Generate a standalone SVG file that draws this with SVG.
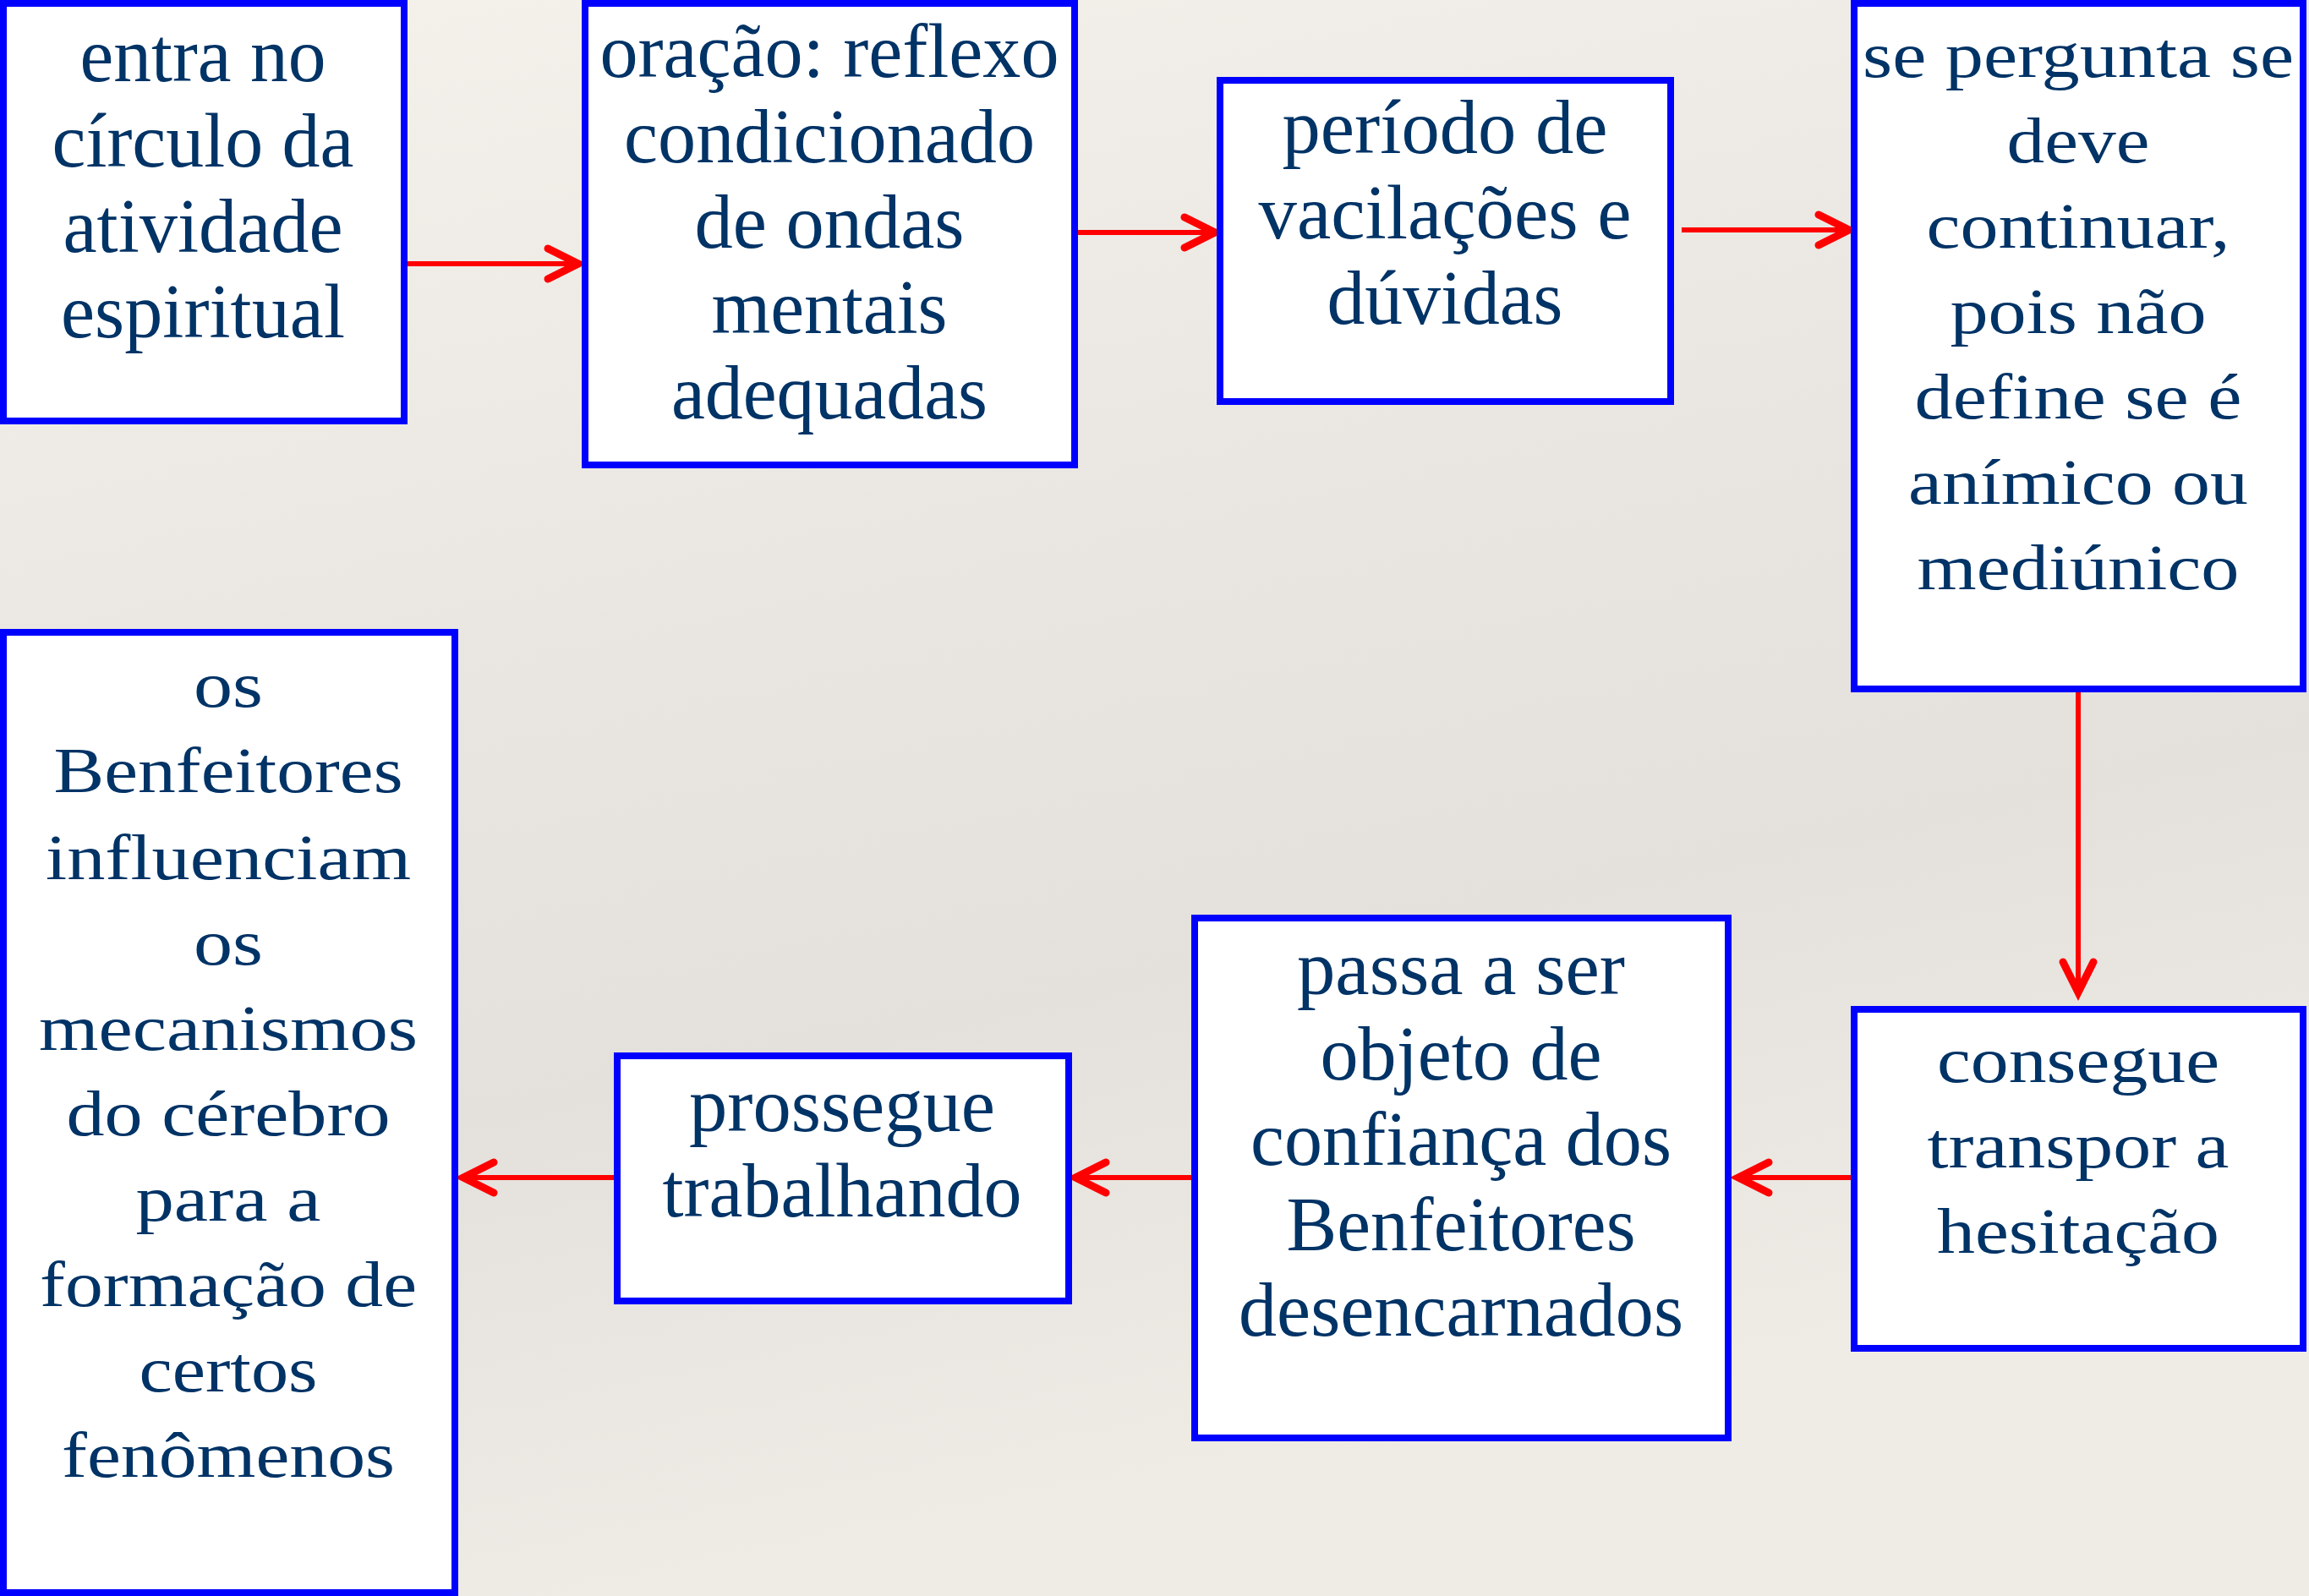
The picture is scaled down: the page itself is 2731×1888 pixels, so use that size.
<svg xmlns="http://www.w3.org/2000/svg" width="2731" height="1888" viewBox="0 0 2731 1888">
<defs>
<linearGradient id="bg" x1="0" y1="0" x2="0.3" y2="1">
<stop offset="0" stop-color="#F5F2EC"/>
<stop offset="0.45" stop-color="#E9E6E1"/>
<stop offset="0.7" stop-color="#E4E1DC"/>
<stop offset="1" stop-color="#EFECE6"/>
</linearGradient>
<style>
.box{fill:#FFFFFF;stroke:#0000FF;stroke-width:8}
.t{font-family:"Liberation Serif","Times New Roman",serif;font-size:90px;fill:#003366;text-anchor:middle}
.w{font-size:76px}
.ln{stroke:#FF0000;stroke-width:6;fill:none}
.hd{stroke:#FF0000;stroke-width:9;fill:none;stroke-linecap:round;stroke-linejoin:miter}
</style>
</defs>
<rect x="0" y="0" width="2731" height="1888" fill="url(#bg)"/>

<g id="connectors">
<line class="ln" x1="482" y1="312" x2="684" y2="312"/>
<polyline class="hd" points="648,294 684,312 648,330"/>
<line class="ln" x1="1275" y1="275" x2="1435" y2="275"/>
<polyline class="hd" points="1401,257 1437,275 1401,293"/>
<line class="ln" x1="1989" y1="272" x2="2185" y2="272"/>
<polyline class="hd" points="2151,254 2187,272 2151,290"/>
<line class="ln" x1="2458" y1="819" x2="2458" y2="1172"/>
<polyline class="hd" points="2440,1138 2458,1174 2476,1138"/>
<line class="ln" x1="2189" y1="1393" x2="2058" y2="1393"/>
<polyline class="hd" points="2092,1375 2056,1393 2092,1411"/>
<line class="ln" x1="1409" y1="1393" x2="1274" y2="1393"/>
<polyline class="hd" points="1308,1375 1272,1393 1308,1411"/>
<line class="ln" x1="726" y1="1393" x2="550" y2="1393"/>
<polyline class="hd" points="584,1375 548,1393 584,1411"/>
</g>

<g id="n1">
<rect class="box" x="4" y="4" width="474" height="494"/>
<text class="t"><tspan x="240" y="96" textLength="291" lengthAdjust="spacingAndGlyphs">entra no</tspan><tspan x="240" y="197" textLength="357" lengthAdjust="spacingAndGlyphs">círculo da</tspan><tspan x="240" y="298" textLength="331" lengthAdjust="spacingAndGlyphs">atividade</tspan><tspan x="240" y="399" textLength="336" lengthAdjust="spacingAndGlyphs">espiritual</tspan></text>
</g>

<g id="n2">
<rect class="box" x="692" y="4" width="579" height="546"/>
<text class="t"><tspan x="981" y="91" textLength="543" lengthAdjust="spacingAndGlyphs">oração: reflexo</tspan><tspan x="981" y="192" textLength="486" lengthAdjust="spacingAndGlyphs">condicionado</tspan><tspan x="981" y="293" textLength="319" lengthAdjust="spacingAndGlyphs">de ondas</tspan><tspan x="981" y="394" textLength="279" lengthAdjust="spacingAndGlyphs">mentais</tspan><tspan x="981" y="495" textLength="374" lengthAdjust="spacingAndGlyphs">adequadas</tspan></text>
</g>

<g id="n3">
<rect class="box" x="1443" y="95" width="533" height="380"/>
<text class="t"><tspan x="1709" y="181" textLength="385" lengthAdjust="spacingAndGlyphs">período de</tspan><tspan x="1709" y="282" textLength="441" lengthAdjust="spacingAndGlyphs">vacilações e</tspan><tspan x="1709" y="383" textLength="279" lengthAdjust="spacingAndGlyphs">dúvidas</tspan></text>
</g>

<g id="n4">
<rect class="box" x="2193" y="4" width="531" height="811"/>
<text class="t w"><tspan x="2458" y="91" textLength="510" lengthAdjust="spacingAndGlyphs">se pergunta se</tspan><tspan x="2458" y="192" textLength="169" lengthAdjust="spacingAndGlyphs">deve</tspan><tspan x="2458" y="293" textLength="359" lengthAdjust="spacingAndGlyphs">continuar,</tspan><tspan x="2458" y="394" textLength="303" lengthAdjust="spacingAndGlyphs">pois não</tspan><tspan x="2458" y="495" textLength="387" lengthAdjust="spacingAndGlyphs">define se é</tspan><tspan x="2458" y="596" textLength="402" lengthAdjust="spacingAndGlyphs">anímico ou</tspan><tspan x="2458" y="697" textLength="381" lengthAdjust="spacingAndGlyphs">mediúnico</tspan></text>
</g>

<g id="n5">
<rect class="box" x="2193" y="1194" width="531" height="401"/>
<text class="t w"><tspan x="2458" y="1280" textLength="334" lengthAdjust="spacingAndGlyphs">consegue</tspan><tspan x="2458" y="1381" textLength="357" lengthAdjust="spacingAndGlyphs">transpor a</tspan><tspan x="2458" y="1482" textLength="334" lengthAdjust="spacingAndGlyphs">hesitação</tspan></text>
</g>

<g id="n6">
<rect class="box" x="1413" y="1086" width="631" height="615"/>
<text class="t"><tspan x="1728" y="1176" textLength="388" lengthAdjust="spacingAndGlyphs">passa a ser</tspan><tspan x="1728" y="1277" textLength="333" lengthAdjust="spacingAndGlyphs">objeto de</tspan><tspan x="1728" y="1378" textLength="498" lengthAdjust="spacingAndGlyphs">confiança dos</tspan><tspan x="1728" y="1479" textLength="413" lengthAdjust="spacingAndGlyphs">Benfeitores</tspan><tspan x="1728" y="1580" textLength="526" lengthAdjust="spacingAndGlyphs">desencarnados</tspan></text>
</g>

<g id="n7">
<rect class="box" x="730" y="1249" width="534" height="290"/>
<text class="t"><tspan x="996" y="1338" textLength="362" lengthAdjust="spacingAndGlyphs">prossegue</tspan><tspan x="996" y="1439" textLength="425" lengthAdjust="spacingAndGlyphs">trabalhando</tspan></text>
</g>

<g id="n8">
<rect class="box" x="4" y="748" width="534" height="1136"/>
<text class="t w"><tspan x="270" y="836" textLength="82" lengthAdjust="spacingAndGlyphs">os</tspan><tspan x="270" y="937" textLength="413" lengthAdjust="spacingAndGlyphs">Benfeitores</tspan><tspan x="270" y="1040" textLength="432" lengthAdjust="spacingAndGlyphs">influenciam</tspan><tspan x="270" y="1141" textLength="82" lengthAdjust="spacingAndGlyphs">os</tspan><tspan x="270" y="1242" textLength="448" lengthAdjust="spacingAndGlyphs">mecanismos</tspan><tspan x="270" y="1343" textLength="383" lengthAdjust="spacingAndGlyphs">do cérebro</tspan><tspan x="270" y="1444" textLength="219" lengthAdjust="spacingAndGlyphs">para a</tspan><tspan x="270" y="1545" textLength="446" lengthAdjust="spacingAndGlyphs">formação de</tspan><tspan x="270" y="1646" textLength="211" lengthAdjust="spacingAndGlyphs">certos</tspan><tspan x="270" y="1747" textLength="394" lengthAdjust="spacingAndGlyphs">fenômenos</tspan></text>
</g>
</svg>
